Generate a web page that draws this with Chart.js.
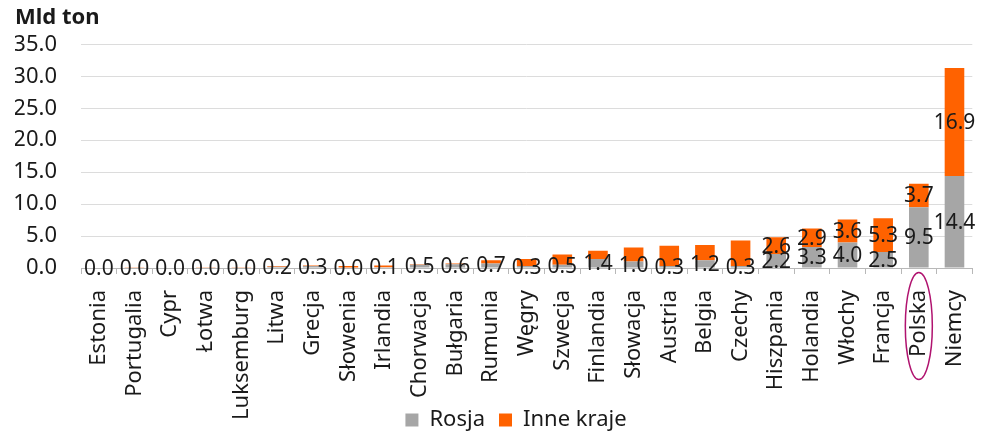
<!DOCTYPE html>
<html lang="pl">
<head>
  <meta charset="UTF-8">
  <title>Import gazu - Rosja i inne kraje</title>
  <style>
    body {
      margin: 0;
      background: #ffffff;
    }

    #wrap {
      width: 997px;
      height: 431px;
    }
  </style>
</head>
<body>
  <div id="wrap"><canvas id="chart"></canvas></div>

  <script src="https://cdn.jsdelivr.net/npm/chart.js"></script>
  <script>
    const countries = ["Estonia", "Portugalia", "Cypr", "Łotwa", "Luksemburg", "Litwa", "Grecja", "Słowenia",
      "Irlandia", "Chorwacja", "Bułgaria", "Rumunia", "Węgry", "Szwecja", "Finlandia", "Słowacja", "Austria",
      "Belgia", "Czechy", "Hiszpania", "Holandia", "Włochy", "Francja", "Polska", "Niemcy"];
    const rosja = [0.0, 0.0, 0.0, 0.0, 0.0, 0.2, 0.3, 0.0, 0.1, 0.5, 0.6, 0.7, 0.3, 0.5, 1.4, 1.0, 0.3, 1.2, 0.3,
      2.2, 3.3, 4.0, 2.5, 9.5, 14.4];
    const inneKraje = [0.0, 0.1, 0.0, 0.1, 0.1, 0.1, 0.1, 0.3, 0.3, 0.1, 0.1, 0.5, 1.1, 1.6, 1.3, 2.2, 3.2, 2.4, 4.0,
      2.6, 2.9, 3.6, 5.3, 3.7, 16.9];
    // tylko te słupki mają podpis dla "Inne kraje"
    const inneLabelled = ["Hiszpania", "Holandia", "Włochy", "Francja", "Polska", "Niemcy"];
    const yMax = 35;
    const yStep = 5;
    const marked = "Polska";

    const FONT = '"Noto Sans", sans-serif';

    const valueLabels = {
      id: "valueLabels",
      afterDatasetsDraw(chart) {
        const ctx = chart.ctx;
        ctx.save();
        ctx.font = "21px " + FONT;
        ctx.fillStyle = "#1a1a1a";
        ctx.textAlign = "center";
        ctx.textBaseline = "middle";
        chart.data.datasets.forEach((ds, di) => {
          chart.getDatasetMeta(di).data.forEach((bar, i) => {
            if (di === 1 && !inneLabelled.includes(countries[i])) return;
            const p = bar.getProps(["x", "y", "base"], true);
            ctx.fillText(ds.data[i].toFixed(1), p.x, (p.y + p.base) / 2 + 1);
          });
        });
        ctx.restore();
      }
    };

    const markLabel = {
      id: "markLabel",
      afterLayout(chart) {
        // legenda trochę niżej i w prawo, a podpisy osi X nie mogą być przycięte
        chart.legend.top += 10;
        chart.legend.bottom += 10;
        chart.legend.left += 13;
        chart.legend.right += 13;
        chart.scales.x.bottom = chart.height;
      },
      afterDraw(chart) {
        const ctx = chart.ctx;
        const x = chart.scales.x.getPixelForValue(countries.indexOf(marked));
        const y = chart.chartArea.bottom + 58;
        ctx.save();
        ctx.beginPath();
        ctx.ellipse(x, y, 13.5, 53.5, 0, 0, Math.PI * 2);
        ctx.strokeStyle = "#b0136f";
        ctx.lineWidth = 1.5;
        ctx.stroke();
        ctx.restore();
      }
    };

    new Chart(document.getElementById("chart"), {
      type: "bar",
      data: {
        labels: countries,
        datasets: [
          { label: "Rosja", data: rosja, backgroundColor: "#a6a6a6" },
          { label: "Inne kraje", data: inneKraje, backgroundColor: "#ff6200" }
        ]
      },
      options: {
        responsive: true,
        maintainAspectRatio: false,
        animation: false,
        datasets: { bar: { categoryPercentage: 1, barPercentage: 0.55 } },
        layout: { padding: { left: 15, right: 6, top: 0, bottom: 0 } },
        scales: {
          x: {
            stacked: true,
            afterFit(scale) { scale.height = 117; },
            grid: { drawOnChartArea: false, drawTicks: true, tickLength: 6, color: "#b8b8b8" },
            border: { color: "#b8b8b8" },
            ticks: {
              minRotation: 90,
              maxRotation: 90,
              autoSkip: false,
              padding: 16,
              color: "#1a1a1a",
              font: { family: FONT, size: 22 }
            }
          },
          y: {
            stacked: true,
            min: 0,
            max: yMax,
            afterFit(scale) { scale.width = 66; },
            grid: { color: "#dcdcdc", drawTicks: false },
            border: { display: false },
            ticks: {
              stepSize: yStep,
              autoSkip: false,
              padding: 24,
              color: "#1a1a1a",
              font: { family: FONT, size: 22 },
              callback: (v) => v.toFixed(1)
            }
          }
        },
        plugins: {
          title: {
            display: true,
            text: "Mld ton",
            align: "start",
            color: "#1a1a1a",
            font: { family: FONT, size: 22, weight: "bold" },
            padding: { top: 5, bottom: 13 }
          },
          legend: {
            position: "bottom",
            labels: {
              boxWidth: 13,
              boxHeight: 13,
              padding: 14,
              color: "#1a1a1a",
              font: { family: FONT, size: 22 }
            }
          },
          tooltip: { enabled: false }
        }
      },
      plugins: [valueLabels, markLabel]
    });
  </script>
</body>
</html>
